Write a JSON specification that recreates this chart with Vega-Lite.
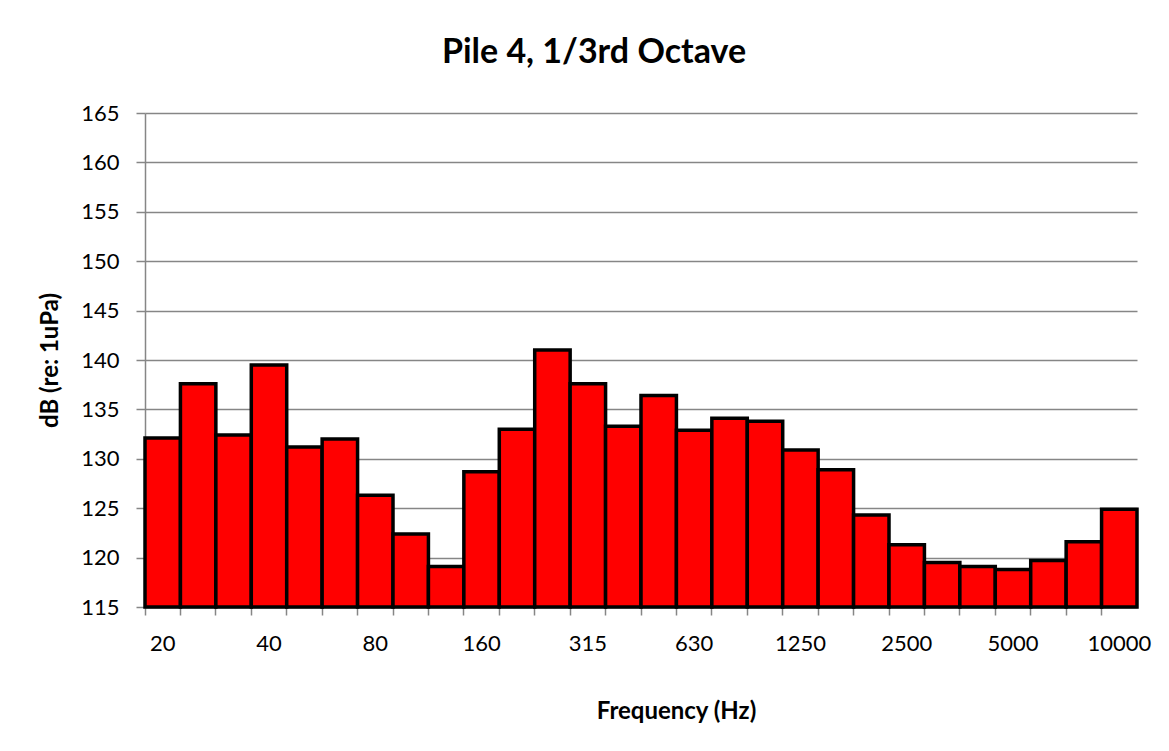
{
  "$schema": "https://vega.github.io/schema/vega-lite/v6.json",
  "autosize": "none",
  "width": 992,
  "height": 494,
  "padding": {"left": 145, "top": 113, "right": 32, "bottom": 144},
  "background": "white",
  "title": {
    "text": "Pile 4, 1/3rd Octave",
    "font": "Lato",
    "fontSize": 34,
    "fontWeight": "bold",
    "color": "#000000",
    "anchor": "middle",
    "frame": "group",
    "dx": -47,
    "baseline": "alphabetic",
    "offset": 5
  },
  "data": {
    "values": [
      {"freq": "20", "dB": 132.1},
      {"freq": "25", "dB": 137.6},
      {"freq": "31.5", "dB": 132.4},
      {"freq": "40", "dB": 139.5},
      {"freq": "50", "dB": 131.2},
      {"freq": "63", "dB": 132.0},
      {"freq": "80", "dB": 126.3},
      {"freq": "100", "dB": 122.4},
      {"freq": "125", "dB": 119.1},
      {"freq": "160", "dB": 128.7},
      {"freq": "200", "dB": 133.0},
      {"freq": "250", "dB": 141.0},
      {"freq": "315", "dB": 137.6},
      {"freq": "400", "dB": 133.3},
      {"freq": "500", "dB": 136.4},
      {"freq": "630", "dB": 132.9},
      {"freq": "800", "dB": 134.1},
      {"freq": "1000", "dB": 133.8},
      {"freq": "1250", "dB": 130.9},
      {"freq": "1600", "dB": 128.9},
      {"freq": "2000", "dB": 124.3},
      {"freq": "2500", "dB": 121.3},
      {"freq": "3150", "dB": 119.5},
      {"freq": "4000", "dB": 119.1},
      {"freq": "5000", "dB": 118.8},
      {"freq": "6300", "dB": 119.7},
      {"freq": "8000", "dB": 121.6},
      {"freq": "10000", "dB": 124.9}
    ]
  },
  "mark": {"type": "bar", "fill": "#FF0000", "stroke": "#000000", "strokeWidth": 3.5, "strokeJoin": "miter"},
  "encoding": {
    "x": {
      "field": "freq",
      "type": "nominal",
      "sort": null,
      "scale": {"paddingInner": 0, "paddingOuter": 0},
      "axis": {
        "title": "Frequency (Hz)",
        "titleFont": "Lato",
        "titleFontSize": 24,
        "titleFontWeight": "bold",
        "titleColor": "#000000",
        "titlePadding": 45,
        "titleX": 531,
        "titleAlign": "center",
        "labelAngle": 0,
        "labelFont": "Lato",
        "labelFontSize": 22,
        "labelColor": "#000000",
        "labelPadding": 18,
        "bandPosition": 0,
        "labelExpr": "indexof(['20','40','80','160','315','630','1250','2500','5000','10000'], datum.label) >= 0 ? datum.label : ''",
        "domainColor": "#868686",
        "domainWidth": 1.5,
        "tickColor": "#868686",
        "tickWidth": 1.5,
        "tickSize": 8,
        "grid": false
      }
    },
    "y": {
      "field": "dB",
      "type": "quantitative",
      "scale": {"domain": [115, 165], "zero": false, "nice": false},
      "axis": {
        "title": "dB (re: 1uPa)",
        "titleFont": "Lato",
        "titleFontSize": 24,
        "titleFontWeight": "bold",
        "titleColor": "#000000",
        "titlePadding": 18,
        "values": [115, 120, 125, 130, 135, 140, 145, 150, 155, 160, 165],
        "labelFont": "Lato",
        "labelFontSize": 22,
        "labelColor": "#000000",
        "labelPadding": 17,
        "domainColor": "#868686",
        "domainWidth": 1.5,
        "tickColor": "#868686",
        "tickWidth": 1.5,
        "tickSize": 9,
        "grid": true,
        "gridColor": "#868686",
        "gridWidth": 1.5
      }
    },
    "y2": {"datum": 115}
  },
  "config": {"view": {"stroke": null}}
}
